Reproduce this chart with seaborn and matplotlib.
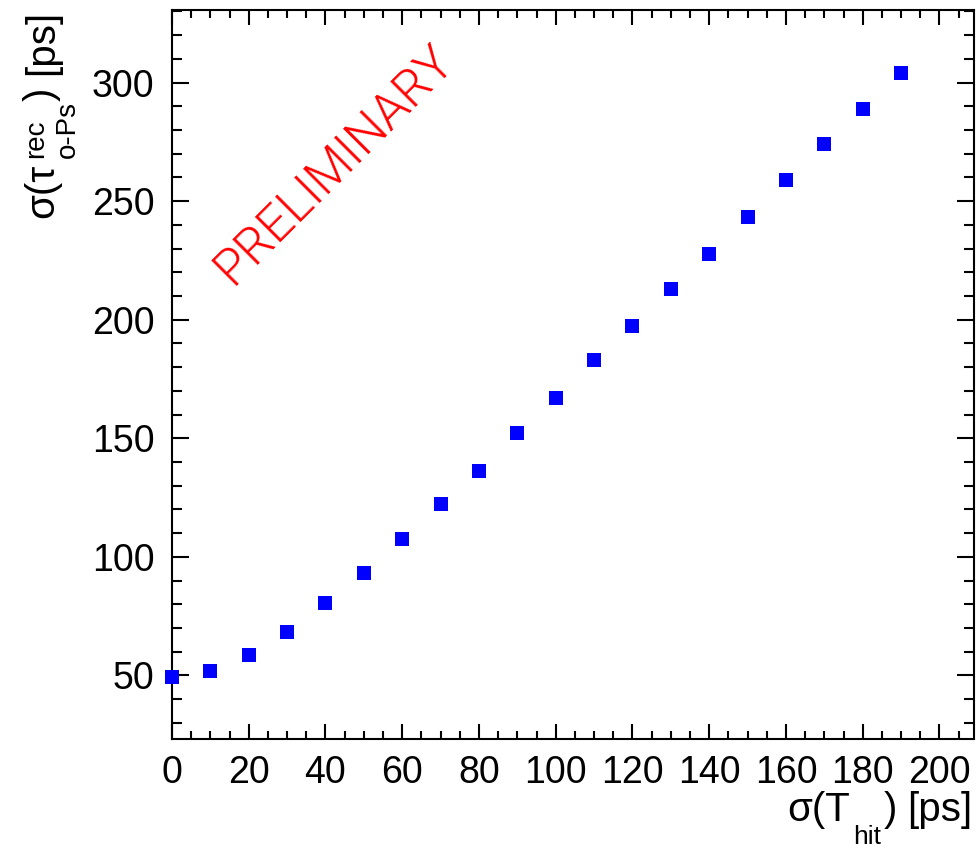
import matplotlib
matplotlib.use("Agg")
import matplotlib.pyplot as plt
from matplotlib.transforms import IdentityTransform
from matplotlib.ticker import MultipleLocator, FixedLocator
import seaborn as sns
import pandas as pd

# Resolution of the hit time vs. resolution of the reconstructed o-Ps lifetime
sigma_t_hit = [0, 10, 20, 30, 40, 50, 60, 70, 80, 90,
               100, 110, 120, 130, 140, 150, 160, 170, 180, 190]
sigma_tau_rec = [49.5, 51.7, 58.6, 68.5, 80.7, 93.3, 107.7, 122.4, 136.4, 152.4,
                 167.1, 182.8, 197.5, 213.1, 227.9, 243.5, 259.1, 273.9, 288.9, 303.9]
x_ticks = [0, 20, 40, 60, 80, 100, 120, 140, 160, 180, 200]
y_ticks = [50, 100, 150, 200, 250, 300]
watermark = "PRELIMINARY"

sns.set_style("ticks")
plt.rcParams["font.family"] = ["Liberation Sans", "DejaVu Sans"]

W, H = 979, 850
fig = plt.figure(figsize=(W / 100, H / 100), dpi=100)
ax = fig.add_axes([172 / W, (H - 738.5) / H, (974 - 172) / W, (738.5 - 10) / H])

df = pd.DataFrame({"t_hit": sigma_t_hit, "tau_rec": sigma_tau_rec})
sns.scatterplot(data=df, x="t_hit", y="tau_rec", marker="s", s=102,
                color="#0000ff", linewidth=0, ax=ax, clip_on=False,
                zorder=5, legend=False)

ax.set_xlim(0, 209)
ax.set_ylim(23.4, 330.6)
ax.xaxis.set_major_locator(FixedLocator(x_ticks))
ax.yaxis.set_major_locator(FixedLocator(y_ticks))
ax.xaxis.set_minor_locator(MultipleLocator(5))
ax.yaxis.set_minor_locator(MultipleLocator(10))
ax.set_xticklabels([str(v) for v in x_ticks])
ax.set_yticklabels([str(v) for v in y_ticks])
ax.set_xlabel("")
ax.set_ylabel("")

for sp in ax.spines.values():
    sp.set_visible(True)
    sp.set_linewidth(1.5)
    sp.set_color("black")

ax.tick_params(which="both", direction="in", top=True, right=True,
               width=1.5, color="black", labelsize=27, labelcolor="black")
ax.tick_params(axis="y", which="major", length=12.2, pad=12.5)
ax.tick_params(axis="y", which="minor", length=7)
ax.tick_params(axis="x", which="major", length=10.5, pad=12)
ax.tick_params(axis="x", which="minor", length=6)

px = IdentityTransform()
title_fs = 29
script_fs = 20

# x-axis title, ROOT style: sigma(T_hit) [ps]
xl = dict(transform=px, rotation_mode="anchor", ha="left", va="baseline",
          color="black")
fig.text(787, H - 821, "σ(T", fontsize=title_fs, **xl)
fig.text(853, H - 844, "hit", fontsize=19, **xl)
fig.text(884, H - 821, ")", fontsize=title_fs, **xl)
fig.text(972, H - 821, "[ps]", fontsize=title_fs, transform=px,
         rotation_mode="anchor", ha="right", va="baseline", color="black")

# y-axis title, ROOT style: sigma(tau^rec_o-Ps) [ps]
yl = dict(transform=px, rotation=90, rotation_mode="anchor", ha="left",
          va="baseline", color="black")
fig.text(53, H - 218, "σ(τ", fontsize=title_fs, **yl)
fig.text(43, H - 158, "rec", fontsize=script_fs, **yl)
fig.text(75, H - 158, "o-Ps", fontsize=script_fs, **yl)
fig.text(53, H - 101, ")", fontsize=title_fs, **yl)
fig.text(53, H - 10, "[ps]", fontsize=title_fs, transform=px, rotation=90,
         rotation_mode="anchor", ha="right", va="baseline", color="black")

fig.text(334, H - 165, watermark, transform=px, rotation=45, ha="center",
         va="center", color="#ff0000", fontsize=36,
         family=["Roboto", "Liberation Sans"], fontweight=300)

fig.savefig("out.png", dpi=100)
